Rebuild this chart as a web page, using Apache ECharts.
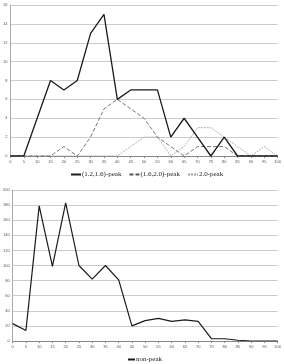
<!DOCTYPE html>
<html>
<head>
<meta charset="utf-8">
<script src="https://cdn.jsdelivr.net/npm/echarts@6/dist/echarts.min.js"></script>
<style>
  html, body { margin: 0; padding: 0; background: #ffffff; }
  #chart { width: 284px; height: 364px; }
</style>
</head>
<body>
<div id="chart"></div>
<script>
const categories = ['0', '5', '10', '15', '20', '25', '30', '35', '40', '45', '50',
    '55', '60', '65', '70', '75', '80', '85', '90', '95', '100'];

const peakLow = [0, 0, 4, 8, 7, 8, 13, 15, 6, 7, 7, 7, 2, 4, 2, 0, 2, 0, 0, 0, 0];
const peakMid = [0, 0, 0, 0, 1, 0, 2, 5, 6, 5, 4, 2, 1, 0, 1, 1, 1, 0, 0, 0, 0];
const peakHigh = [0, 0, 0, 0, 0, 0, 0, 0, 0, 1, 2, 2, 0, 1, 3, 3, 2, 1, 0, 1, 0];
const nonPeak = [23, 14, 179, 99, 183, 100, 82, 100, 81, 20, 27, 30, 26, 28, 26, 3, 3, 1, 0, 0, 0];

const tickFont = { fontSize: 4, color: '#555', fontFamily: 'Liberation Sans' };

const xAxisBase = {
    type: 'category',
    data: categories,
    boundaryGap: false,
    axisLine: { lineStyle: { color: '#888', width: 1 } },
    axisTick: { show: true, length: 2, lineStyle: { color: '#888' } },
    axisLabel: { ...tickFont, margin: 4, interval: 0 },
    splitLine: { show: false }
};

const yAxisBase = {
    type: 'value',
    axisLine: { show: true, lineStyle: { color: '#aaa', width: 1 } },
    axisTick: { show: false },
    axisLabel: { ...tickFont, margin: 3 },
    splitLine: { show: true, lineStyle: { color: '#cccccc', width: 1 } }
};

const legendText = { fontSize: 7, fontFamily: 'Liberation Serif', color: '#222', padding: [1, 0, 0, -4] };

const chart = echarts.init(document.getElementById('chart'), null, { renderer: 'canvas' });

chart.setOption({
    backgroundColor: '#ffffff',
    animation: false,
    grid: [
        { left: 9, right: 3, top: 5, height: 151 },
        { left: 11, right: 2, top: 190, height: 151 }
    ],
    legend: [
        {
            data: ['(1.2,1.6)-peak', '(1.6,2.0)-peak', '2.0-peak'],
            left: 70,
            top: 171,
            padding: 0,
            itemWidth: 10,
            itemHeight: 2,
            itemGap: 7,
            itemStyle: { opacity: 0 },
            textStyle: legendText
        },
        {
            data: ['non-peak'],
            left: 127,
            top: 356,
            padding: 0,
            itemWidth: 7,
            itemHeight: 2,
            itemStyle: { opacity: 0 },
            textStyle: legendText
        }
    ],
    xAxis: [
        { ...xAxisBase, gridIndex: 0 },
        { ...xAxisBase, gridIndex: 1 }
    ],
    yAxis: [
        { ...yAxisBase, gridIndex: 0, min: 0, max: 16, interval: 2 },
        { ...yAxisBase, gridIndex: 1, min: 0, max: 200, interval: 20 }
    ],
    series: [
        {
            name: '(1.2,1.6)-peak',
            type: 'line',
            data: peakLow,
            symbol: 'none',
            lineStyle: { color: '#1a1a1a', width: 1.3 },
            itemStyle: { color: '#1a1a1a' },
            z: 5
        },
        {
            name: '(1.6,2.0)-peak',
            type: 'line',
            data: peakMid,
            symbol: 'none',
            lineStyle: { color: '#555', width: 0.8, type: [4, 2] },
            itemStyle: { color: '#555' },
            z: 4
        },
        {
            name: '2.0-peak',
            type: 'line',
            data: peakHigh,
            symbol: 'none',
            lineStyle: { color: '#a0a0a0', width: 0.8, type: [2, 1] },
            itemStyle: { color: '#a0a0a0' },
            z: 3
        },
        {
            name: 'non-peak',
            type: 'line',
            xAxisIndex: 1,
            yAxisIndex: 1,
            data: nonPeak,
            symbol: 'none',
            lineStyle: { color: '#1a1a1a', width: 1.2 },
            itemStyle: { color: '#1a1a1a' }
        }
    ]
});
</script>
</body>
</html>
